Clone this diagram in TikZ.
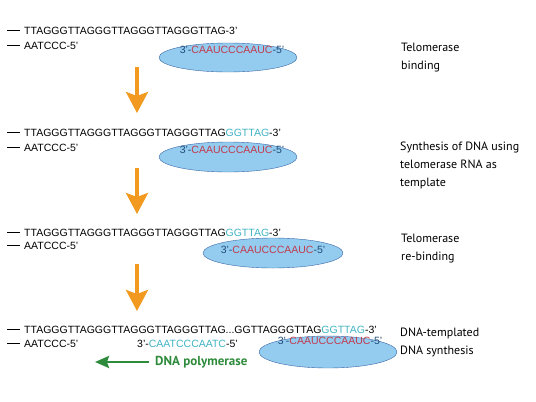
\documentclass[tikz,border=0pt]{standalone}
\usepackage{fontspec}
\setmainfont{Liberation Sans}
\newfontfamily\labfont{PT Sans}
\usepackage{tikz}
\usetikzlibrary{arrows.meta,positioning,shapes.geometric,calc}

\definecolor{telblue}{HTML}{94CCEF}
\definecolor{teledge}{HTML}{3A66A6}
\definecolor{rnared}{HTML}{C23A4E}
\definecolor{rnaend}{HTML}{1F4A78}
\definecolor{newdna}{HTML}{3FB3C4}
\definecolor{steporange}{HTML}{F29A1F}
\definecolor{polgreen}{HTML}{2E8B3C}

\newcommand{\rnaseq}{\textcolor{rnaend}{3'-}\textcolor{rnared}{CAAUCCCAAUC}\textcolor{rnaend}{-5'}}
\newcommand{\strandend}{\rule[3.3pt]{13pt}{0.9pt}\hspace{4pt}}

\begin{document}
\begin{tikzpicture}[x=1pt, y=-1pt,
    seq/.style={anchor=west, inner sep=0pt, font=\fontsize{10.5}{12}\selectfont},
    tel/.style={draw=teledge, fill=telblue, ellipse, minimum width=138pt, inner sep=0pt},
    lab/.style={anchor=west, inner sep=0pt, align=left,
      font=\labfont\fontsize{12}{18}\selectfont},
    downarr/.style={-{Stealth[length=21pt, width=22pt, inset=4pt]}, line width=3.5pt, steporange},
    polarr/.style={-{Stealth[length=14pt, width=12pt, inset=2pt]}, line width=2.5pt, polgreen},
  ]
    \useasboundingbox (0,0) rectangle (536,402);

    % Telomerase binding
    \node[seq] (top1) at (7, 31) {\strandend TTAGGGTTAGGGTTAGGGTTAGGGTTAG-3'};
    \node[seq] (bot1) at (7, 46) {\strandend AATCCC-5'};
    \node[tel, minimum height=29pt] (tel1) at (228, 57.5) {};
    \node[seq, anchor=center] (rna1) at ([xshift=4pt, yshift=7.5pt]tel1.center) {\rnaseq};
    \node[lab] (lab1) at (401, 58) {Telomerase\\binding};

    % Synthesis
    \node[seq] (top2) at (7, 133) {\strandend TTAGGGTTAGGGTTAGGGTTAGGGTTAG\textcolor{newdna}{GGTTAG}-3'};
    \node[seq] (bot2) at (7, 148) {\strandend AATCCC-5'};
    \node[tel, minimum height=30pt] (tel2) at (228, 157) {};
    \node[seq, anchor=center] (rna2) at ([xshift=4pt, yshift=7.5pt]tel2.center) {\rnaseq};
    \node[lab] (lab2) at (400, 165) {Synthesis of DNA using\\telomerase RNA as\\template};

    % Re-binding
    \node[seq] (top3) at (7, 233) {\strandend TTAGGGTTAGGGTTAGGGTTAGGGTTAG\textcolor{newdna}{GGTTAG}-3'};
    \node[seq] (bot3) at (7, 246) {\strandend AATCCC-5'};
    \node[tel, minimum width=140pt, minimum height=30pt] (tel3) at (273, 253) {};
    \node[seq, anchor=center] (rna3) at ([xshift=0pt, yshift=3.5pt]tel3.center) {\rnaseq};
    \node[lab] (lab3) at (401, 249) {Telomerase\\re-binding};

    % DNA-templated synthesis
    \node[seq] (top4) at (7, 330) {\strandend TTAGGGTTAGGGTTAGGGTTAGGGTTAG...GGTTAGGGTTAG\textcolor{newdna}{GGTTAG}-3'};
    \node[seq] (bot4) at (7, 344) {\strandend AATCCC-5'};
    \node[seq] (prim4) at (137, 344) {3'-\textcolor{newdna}{CAATCCCAATC}-5'};
    \node[tel, minimum height=32pt] (tel4) at (328, 352) {};
    \node[seq, anchor=center] (rna4) at ([xshift=2pt, yshift=11.5pt]tel4.center) {\rnaseq};
    \node[lab] (lab4) at (400, 342) {DNA-templated\\DNA synthesis};
    \node[anchor=west, inner sep=0pt, text=polgreen, font=\labfont\bfseries\fontsize{13}{15}\selectfont] (pol) at (155, 362) {DNA polymerase};
    \coordinate (polend) at (95, 362);

    % Arrows
    \coordinate (a1) at (137, 67);  \coordinate (b1) at (137, 113);
    \coordinate (a2) at (137, 168); \coordinate (b2) at (137, 214);
    \coordinate (a3) at (137, 264); \coordinate (b3) at (137, 311);
    \draw[downarr] (a1) -- (b1);
    \draw[downarr] (a2) -- (b2);
    \draw[downarr] (a3) -- (b3);
    \draw[polarr] ([xshift=-6pt]pol.west) -- (polend);
  \end{tikzpicture}
\end{document}
